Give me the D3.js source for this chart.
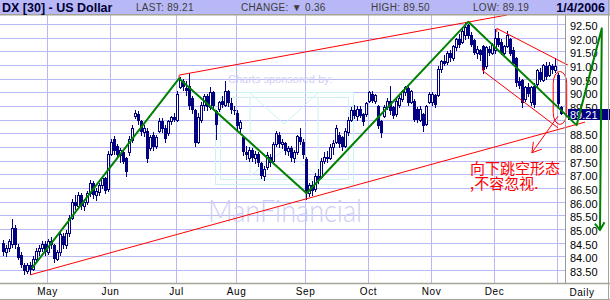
<!DOCTYPE html>
<html>
<head>
<meta charset="utf-8">
<script src="https://cdn.jsdelivr.net/npm/d3@7"></script>
<style>
  body { margin: 0; background: #fff; }
  svg text { font-family: "Liberation Sans", Arial, sans-serif; }
</style>
</head>
<body>
<svg id="chart" width="610" height="300"></svg>
<script>
// DX [30] daily candles, Apr 11 2005 - Jan 4 2006
// each bar is [open, high, low, close]
const aprBars = [
  [84.50, 84.60, 84.05, 84.15], [84.15, 84.40, 84.00, 84.30], [84.30, 84.65, 84.20, 84.55],
  [84.45, 85.35, 84.35, 85.05], [85.05, 85.15, 84.30, 84.40], [84.35, 84.45, 83.90, 83.95],
  [84.05, 84.15, 83.60, 83.70], [83.70, 83.75, 83.35, 83.45], [83.45, 83.75, 83.40, 83.70],
  [83.70, 83.80, 83.35, 83.50], [83.55, 84.00, 83.50, 83.90], [83.90, 84.30, 83.80, 84.20],
  [84.20, 84.40, 84.05, 84.30], [84.30, 84.55, 84.20, 84.45], [84.45, 84.55, 84.05, 84.15]
];
const mayBars = [
  [84.15, 84.65, 84.10, 84.55], [84.55, 84.70, 84.30, 84.40], [84.40, 84.45, 83.80, 83.90],
  [83.90, 84.25, 83.85, 84.15], [84.15, 84.90, 84.05, 84.80], [84.75, 84.85, 84.30, 84.40],
  [84.40, 84.95, 84.30, 84.85], [84.85, 85.50, 84.75, 85.40], [85.40, 86.10, 85.35, 86.00],
  [86.00, 86.25, 85.75, 85.85], [85.85, 86.35, 85.80, 86.25], [86.25, 86.30, 85.75, 85.85],
  [85.85, 86.10, 85.70, 86.00], [86.00, 86.40, 85.90, 86.30], [86.30, 86.80, 86.20, 86.70],
  [86.70, 86.75, 86.15, 86.25], [86.25, 86.50, 86.05, 86.40], [86.35, 86.70, 86.25, 86.60],
  [86.60, 86.95, 86.50, 86.85], [86.85, 86.90, 86.30, 86.40], [86.45, 87.85, 86.40, 87.75]
];
const junBars = [
  [87.75, 88.30, 87.70, 88.20], [88.30, 88.40, 87.75, 87.85], [88.05, 88.10, 87.65, 87.70],
  [87.70, 87.95, 87.45, 87.90], [87.80, 87.85, 87.40, 87.45], [87.60, 87.65, 86.95, 87.10],
  [87.80, 88.40, 87.70, 88.30], [88.25, 88.80, 88.20, 88.70], [89.15, 89.35, 89.05, 89.25],
  [89.20, 89.30, 88.85, 88.95], [88.95, 89.00, 88.45, 88.55], [88.55, 88.80, 88.40, 88.70],
  [88.60, 88.70, 87.45, 87.55], [87.95, 88.45, 87.90, 88.35], [88.45, 88.55, 87.90, 88.00],
  [88.05, 88.45, 87.95, 88.35], [88.60, 89.05, 88.55, 88.95], [88.95, 89.05, 88.55, 88.65],
  [88.70, 88.80, 88.20, 88.30], [88.50, 89.00, 88.45, 88.95], [88.95, 89.15, 88.85, 89.10],
  [89.10, 89.25, 88.95, 89.00]
];
const julBars = [
  [89.00, 90.05, 88.95, 89.95], [90.20, 90.55, 90.15, 90.45], [90.40, 90.50, 90.10, 90.20],
  [90.15, 90.40, 89.90, 90.05], [90.25, 90.70, 89.40, 89.50], [89.80, 89.85, 89.25, 89.35],
  [89.35, 89.40, 88.05, 88.15], [88.20, 89.25, 88.15, 89.10], [89.00, 89.65, 88.90, 89.55],
  [89.55, 89.95, 89.35, 89.85], [89.85, 89.95, 89.35, 89.45], [89.45, 90.20, 89.40, 90.00],
  [90.00, 90.05, 89.40, 89.50], [89.30, 89.35, 88.30, 88.80], [89.40, 89.70, 89.30, 89.65],
  [89.70, 89.85, 89.45, 89.55], [89.55, 90.40, 89.50, 90.05], [90.05, 90.10, 89.50, 89.60],
  [89.60, 89.80, 89.25, 89.35], [89.35, 89.50, 89.20, 89.30]
];
const augBars = [
  [89.25, 89.35, 88.65, 88.75], [88.70, 89.00, 88.55, 88.90], [88.35, 88.40, 87.70, 87.80],
  [87.80, 88.05, 87.55, 87.70], [87.60, 88.00, 87.50, 87.90], [87.90, 87.95, 87.50, 87.60],
  [87.60, 87.85, 87.40, 87.75], [87.75, 87.80, 87.30, 87.40], [87.40, 87.45, 86.85, 86.95],
  [86.95, 87.30, 86.80, 87.20], [87.25, 87.80, 87.20, 87.70], [87.65, 87.75, 87.30, 87.40],
  [87.50, 88.20, 87.45, 88.10], [88.10, 88.60, 88.05, 88.50], [88.45, 88.55, 88.00, 88.10],
  [88.10, 88.30, 87.95, 88.20], [88.15, 88.20, 87.75, 87.85], [87.85, 88.05, 87.70, 87.95],
  [87.95, 88.05, 87.50, 87.60], [87.60, 87.90, 87.45, 87.80], [87.80, 88.45, 87.75, 88.40],
  [88.35, 88.70, 88.10, 88.20], [88.20, 88.30, 87.60, 87.70]
];
const sepBars = [
  [87.55, 87.65, 86.10, 86.30], [86.30, 86.70, 86.20, 86.60], [86.60, 86.75, 86.25, 86.40],
  [86.45, 87.05, 86.40, 86.95], [86.95, 87.20, 86.70, 86.80], [86.90, 87.60, 86.85, 87.50],
  [87.50, 87.80, 87.40, 87.65], [87.65, 87.85, 87.45, 87.55], [87.60, 88.10, 87.55, 88.00],
  [88.00, 88.25, 87.75, 88.15], [88.20, 88.80, 88.15, 88.70], [88.45, 88.55, 88.00, 88.10],
  [88.35, 88.40, 87.90, 88.00], [88.05, 88.70, 88.00, 88.60], [88.55, 89.10, 88.45, 89.00],
  [89.00, 89.45, 88.95, 89.35], [89.35, 89.55, 89.05, 89.15], [89.15, 89.50, 89.00, 89.40],
  [89.40, 89.50, 89.10, 89.15], [89.20, 89.25, 88.80, 88.90], [89.20, 89.65, 89.15, 89.60]
];
const octBars = [
  [89.70, 90.05, 89.65, 90.00], [89.95, 90.05, 89.65, 89.70], [89.70, 89.95, 89.60, 89.90],
  [89.50, 89.55, 88.70, 88.75], [88.95, 89.00, 88.35, 88.50], [89.15, 89.55, 89.10, 89.45],
  [89.45, 89.80, 89.40, 89.70], [89.70, 90.25, 89.20, 89.30], [89.45, 89.50, 89.05, 89.15],
  [89.20, 89.75, 89.15, 89.70], [89.55, 89.85, 89.45, 89.80], [89.75, 90.10, 89.70, 90.05],
  [90.00, 90.25, 89.90, 90.20], [90.15, 90.25, 89.55, 89.60], [89.65, 90.10, 89.60, 90.05],
  [89.70, 89.75, 88.95, 89.00], [89.40, 89.45, 88.90, 89.00], [89.00, 89.50, 88.95, 89.40],
  [89.20, 89.25, 88.60, 88.75], [88.85, 89.55, 88.80, 89.50], [89.65, 90.00, 89.60, 89.95]
];
const novBars = [
  [89.65, 90.00, 89.55, 89.95], [89.90, 89.95, 89.45, 89.55], [89.90, 90.95, 89.85, 90.85],
  [90.85, 91.20, 90.75, 91.15], [91.15, 91.35, 91.00, 91.05], [91.10, 91.50, 91.05, 91.45],
  [91.45, 91.55, 91.15, 91.25], [91.25, 91.75, 91.20, 91.70], [91.65, 92.00, 91.55, 91.95],
  [91.95, 92.15, 91.65, 91.75], [91.85, 92.30, 91.80, 92.25], [92.10, 92.55, 91.95, 92.40],
  [92.45, 92.50, 92.00, 92.05], [92.10, 92.20, 91.70, 91.75], [91.90, 91.95, 91.40, 91.45],
  [91.45, 91.70, 91.25, 91.60], [91.55, 91.60, 91.20, 91.35], [91.70, 91.75, 90.70, 90.80],
  [90.95, 91.70, 90.90, 91.65], [91.60, 91.70, 91.35, 91.45], [91.45, 91.80, 91.40, 91.75]
];
const decBars = [
  [91.55, 92.30, 91.45, 92.00], [92.00, 92.20, 91.70, 91.75], [91.85, 91.95, 91.40, 91.45],
  [91.45, 91.75, 91.40, 91.70], [91.70, 92.25, 91.65, 92.10], [91.95, 92.00, 91.35, 91.40],
  [91.55, 91.65, 91.00, 91.05], [91.25, 91.30, 90.25, 90.35], [90.40, 90.55, 90.15, 90.25],
  [90.45, 90.50, 89.45, 89.60], [89.75, 90.25, 89.70, 90.20], [90.20, 90.35, 89.85, 89.95],
  [89.65, 90.25, 89.55, 90.20], [90.25, 90.35, 89.45, 89.55], [90.30, 90.85, 90.25, 90.80],
  [90.75, 90.90, 90.40, 90.45], [90.45, 91.05, 90.40, 91.00], [90.95, 91.10, 90.50, 90.55],
  [90.65, 91.10, 90.60, 91.00], [90.95, 91.05, 90.70, 90.80], [90.80, 91.25, 90.75, 90.95]
];
const janBars = [
  [90.65, 90.70, 89.50, 89.57], [89.45, 89.50, 89.19, 89.21]
];

// first bar index of each month on the time axis
const monthStarts = [15, 36, 58, 78, 101, 122, 143, 164, 185];
const monthNames = ["May", "Jun", "Jul", "Aug", "Sep", "Oct", "Nov", "Dec", ""];
const yTicks = [83.5, 84, 84.5, 85, 85.5, 86, 86.5, 87, 87.5, 88, 88.5, 89, 89.5, 90, 90.5, 91, 91.5, 92, 92.5];

// hand drawn annotations, as [bar index, price]
const greenTrend = [[9.6, 83.56], [58.7, 90.51], [101.2, 86.31], [155.1, 92.58], [191.2, 88.80], [199.6, 92.34], [199, 84.96]];
const greenHead = [[197.3, 85.20], [199, 84.96], [200.5, 85.25]];
const channelLow = [[9, 83.32], [194, 88.91]];
const channelHigh = [[58.7, 90.45], [58.7, 90.63], [168, 92.83]];
const decHigh = [[164.6, 92.20], [164.6, 92.34], [188.4, 90.99]];
const decLow = [[160, 90.93], [160, 90.78], [185, 88.70]];
const gapArrow = [[185, 89.13], [176.3, 87.79]];
const gapArrowHead = [[176.8, 88.19], [176.3, 87.79], [179.6, 87.92]];
const gapRing = [[183.4, 90.76], [187.9, 88.83]];

const fmt = d3.format(".2f");
const bars = [].concat(aprBars, mayBars, junBars, julBars, augBars, sepBars, octBars, novBars, decBars, janBars)
  .map((d, i) => ({ i: i, o: d[0], h: d[1], l: d[2], c: d[3] }));

const width = 610;
const height = 300;
const plotRight = 566;
const plotTop = 15;
const axisY = 283;

const svg = d3.select("#chart");

const x = d3.scaleLinear().domain([0, bars.length - 1]).range([3, 561]);
const y = d3.scaleLinear().domain([83.5, 92.5]).range([270, 24]);
const py = (v) => Math.round(y(v));

const last = bars[bars.length - 1];
const prev = bars[bars.length - 2];

svg.append("rect").attr("width", width).attr("height", height).attr("fill", "#fff");

// grid
const grid = svg.append("g").attr("stroke", "#b8b8f6").attr("stroke-width", 1);
grid.selectAll(".hg")
  .data(yTicks)
  .enter()
  .append("line")
  .attr("x1", 0)
  .attr("x2", plotRight)
  .attr("y1", (d) => py(d) + 0.5)
  .attr("y2", (d) => py(d) + 0.5);
grid.selectAll(".vg")
  .data(monthStarts)
  .enter()
  .append("line")
  .attr("x1", (d) => x(d) - 0.5)
  .attr("x2", (d) => x(d) - 0.5)
  .attr("y1", plotTop)
  .attr("y2", axisY);

// sponsor watermark
const wm = svg.append("g");
wm.append("text")
  .attr("x", 228)
  .attr("y", 83)
  .attr("font-size", 11)
  .attr("fill", "#cfcff6")
  .text("Charts sponsored by:");
const logo = wm.append("g").attr("fill", "none").attr("stroke", "#ccf2f2").attr("stroke-width", 1);
logo.append("rect").attr("x", 215.5).attr("y", 92.5).attr("width", 138).attr("height", 92);
logo.append("rect").attr("x", 220.5).attr("y", 97.5).attr("width", 128).attr("height", 82);
logo.append("path").attr("d", "M250,93 L284,124 L318,93 M250,98 L250,176 M318,98 L318,176 M250,176 L284,150 L318,176");
wm.append("text")
  .attr("x", 208)
  .attr("y", 222)
  .attr("font-size", 31)
  .attr("textLength", 154)
  .attr("lengthAdjust", "spacingAndGlyphs")
  .attr("font-weight", 300)
  .style("font-family", 'Lato, "Liberation Sans", sans-serif')
  .attr("fill", "#cdcdf6")
  .text("ManFinancial");

// candles
const candles = svg.append("g").attr("shape-rendering", "crispEdges");
candles.selectAll(".wick")
  .data(bars)
  .enter()
  .append("line")
  .attr("x1", (d) => x(d.i) + 0.5)
  .attr("x2", (d) => x(d.i) + 0.5)
  .attr("y1", (d) => py(d.h))
  .attr("y2", (d) => py(d.l) + 1)
  .attr("stroke", "#000080");
candles.selectAll(".body")
  .data(bars)
  .enter()
  .append("rect")
  .attr("x", (d) => (d.c >= d.o ? x(d.i) - 0.5 : x(d.i) - 1))
  .attr("y", (d) => (d.c >= d.o ? py(d.c) + 0.5 : py(d.o)))
  .attr("width", (d) => (d.c >= d.o ? 2 : 3))
  .attr("height", (d) => Math.max(Math.abs(py(d.o) - py(d.c)), 1))
  .attr("fill", (d) => (d.c >= d.o ? "#fff" : "#000080"))
  .attr("stroke", (d) => (d.c >= d.o ? "#000080" : "none"));

// red annotations
const line = d3.line().x((d) => x(d[0])).y((d) => y(d[1]));
const red = svg.append("g").attr("fill", "none").attr("stroke", "#ff0000").attr("stroke-width", 1);
[channelLow, channelHigh, decHigh, decLow, gapArrow, gapArrowHead].forEach((pts) => {
  red.append("path").attr("d", line(pts));
});
red.append("rect")
  .attr("x", x(gapRing[0][0]))
  .attr("y", y(gapRing[0][1]))
  .attr("width", x(gapRing[1][0]) - x(gapRing[0][0]))
  .attr("height", y(gapRing[1][1]) - y(gapRing[0][1]))
  .attr("rx", 6.5)
  .attr("ry", 12);

const note = svg.append("text")
  .attr("fill", "#ff0000")
  .style("font-family", '"Noto Sans CJK SC", sans-serif')
  .attr("font-size", 15);
note.append("tspan").attr("x", 470).attr("y", 173.5).text("向下跳空形态");
note.append("tspan").attr("x", 470).attr("y", 188.5).text(",不容忽视.");

// right axis area
svg.append("line")
  .attr("x1", plotRight - 0.5).attr("x2", plotRight - 0.5)
  .attr("y1", plotTop).attr("y2", axisY)
  .attr("stroke", "#9a9a9a");

// tick labels hidden under the last-price box are left out, as in the picture
const yAxis = svg.append("g")
  .attr("transform", `translate(${plotRight},${0})`)
  .call(d3.axisRight(y)
    .tickValues(yTicks.filter((v) => Math.abs(py(v) - py(last.c)) > 7))
    .tickFormat(fmt).tickSize(0).tickPadding(4));
yAxis.select(".domain").remove();
yAxis.selectAll("text")
  .attr("dy", "0.5em")
  .attr("font-size", 11)
  .attr("fill", "#000")
  .style("font-family", '"Liberation Sans", Arial, sans-serif');

svg.append("rect")
  .attr("x", 568)
  .attr("y", py(last.c) - 5)
  .attr("width", 42)
  .attr("height", 11)
  .attr("fill", "#000080");
svg.append("text")
  .attr("x", 570)
  .attr("y", py(last.c) + 5)
  .attr("font-size", 11)
  .attr("fill", "#fff")
  .text(fmt(last.c));

// green trend lines
const green = svg.append("g").attr("fill", "none").attr("stroke", "#008000").attr("stroke-width", 2)
  .attr("stroke-linejoin", "round");
green.append("path").attr("d", line(greenTrend));
green.append("path").attr("d", line(greenHead));

// time axis
svg.append("line")
  .attr("x1", 0).attr("x2", width)
  .attr("y1", axisY + 0.5).attr("y2", axisY + 0.5)
  .attr("stroke", "#a4a494").attr("stroke-width", 1.5);
const xAxis = svg.append("g")
  .attr("transform", `translate(-1,${axisY})`)
  .call(d3.axisBottom(x).tickValues(monthStarts)
    .tickFormat((d) => monthNames[monthStarts.indexOf(d)])
    .tickSize(0).tickPadding(5));
xAxis.select(".domain").remove();
xAxis.selectAll("text")
  .attr("font-size", 10)
  .attr("letter-spacing", 0.6)
  .attr("fill", "#000")
  .style("font-family", '"Liberation Sans", Arial, sans-serif');
svg.append("text")
  .attr("x", 582)
  .attr("y", 296)
  .attr("text-anchor", "middle")
  .attr("font-size", 10)
  .attr("letter-spacing", 0.6)
  .text("Daily");

// header
svg.append("rect").attr("x", 0).attr("y", 0).attr("width", width).attr("height", 14).attr("fill", "#b8b8f6");
svg.append("line")
  .attr("x1", 0).attr("x2", width)
  .attr("y1", 14.75).attr("y2", 14.75)
  .attr("stroke", "#a4a494").attr("stroke-width", 1.5);
const head = svg.append("g");
head.append("text")
  .attr("x", 2).attr("y", 11.5)
  .attr("font-size", 12.5).attr("font-weight", "bold").attr("fill", "#000033")
  .text("DX [30] - US Dollar");
const change = last.c - prev.c;
const headItems = [
  { x: 136, t: `LAST: ${fmt(last.c)}` },
  { x: 241, t: `CHANGE: ${change < 0 ? "\u25BC" : "\u25B2"} ${fmt(Math.abs(change))}` },
  { x: 371, t: `HIGH: ${fmt(last.h)}` },
  { x: 473, t: `LOW: ${fmt(last.l)}` }
];
head.selectAll(".hi")
  .data(headItems)
  .enter()
  .append("text")
  .attr("x", (d) => d.x)
  .attr("y", 11)
  .attr("font-size", 10)
  .attr("letter-spacing", 0.3)
  .attr("fill", "#3c3c3c")
  .text((d) => d.t);
head.append("text")
  .attr("x", 605).attr("y", 11.5)
  .attr("text-anchor", "end")
  .attr("font-size", 12.5).attr("font-weight", "bold").attr("fill", "#000033")
  .text("1/4/2006");

// outer frame
svg.append("line").attr("x1", 608.5).attr("x2", 608.5).attr("y1", 0).attr("y2", height).attr("stroke", "#a4a494");
svg.append("line").attr("x1", 0).attr("x2", width).attr("y1", 299.5).attr("y2", 299.5).attr("stroke", "#a4a494");
</script>
</body>
</html>
